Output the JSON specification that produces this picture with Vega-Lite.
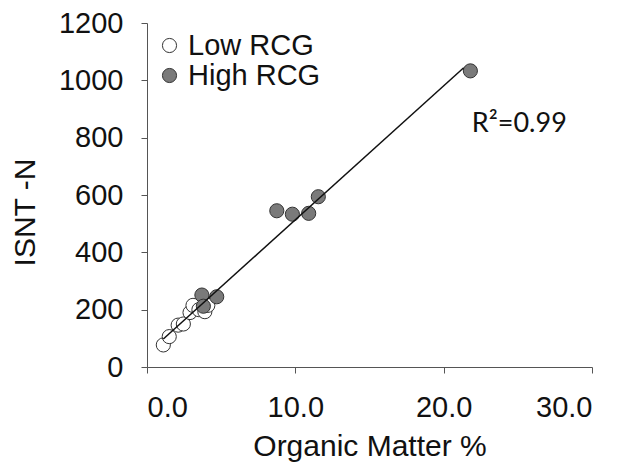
{
  "$schema": "https://vega.github.io/schema/vega-lite/v6.json",
  "width": 445,
  "height": 344,
  "autosize": {"type": "none"},
  "padding": {"left": 147, "top": 23, "right": 52, "bottom": 102},
  "background": "white",
  "config": {
    "view": {"stroke": null},
    "font": "Liberation Sans",
    "axis": {
      "domainColor": "#555",
      "domainWidth": 1,
      "tickColor": "#555",
      "tickSize": 6,
      "grid": false,
      "labelFont": "Liberation Sans",
      "labelFontSize": 29,
      "labelColor": "#111",
      "titleFont": "Liberation Sans",
      "titleFontSize": 30,
      "titleFontWeight": "normal",
      "titleColor": "#111"
    }
  },
  "datasets": {
    "pts": [
      {"om": 1.1, "isnt": 77, "group": "Low RCG"},
      {"om": 1.5, "isnt": 106, "group": "Low RCG"},
      {"om": 2.1, "isnt": 146, "group": "Low RCG"},
      {"om": 2.45, "isnt": 150, "group": "Low RCG"},
      {"om": 2.9, "isnt": 190, "group": "Low RCG"},
      {"om": 3.1, "isnt": 215, "group": "Low RCG"},
      {"om": 3.5, "isnt": 200, "group": "Low RCG"},
      {"om": 3.9, "isnt": 193, "group": "Low RCG"},
      {"om": 4.1, "isnt": 215, "group": "Low RCG"},
      {"om": 3.7, "isnt": 251, "group": "High RCG"},
      {"om": 3.8, "isnt": 212, "group": "High RCG"},
      {"om": 4.7, "isnt": 245, "group": "High RCG"},
      {"om": 8.75, "isnt": 545, "group": "High RCG"},
      {"om": 9.8, "isnt": 533, "group": "High RCG"},
      {"om": 10.9, "isnt": 536, "group": "High RCG"},
      {"om": 11.55, "isnt": 594, "group": "High RCG"},
      {"om": 21.8, "isnt": 1033, "group": "High RCG"}
    ],
    "note": [{"om": 25.1, "isnt": 848, "label": "R²=0.99"}]
  },
  "layer": [
    {
      "data": {"name": "pts"},
      "mark": {"type": "point", "shape": "circle", "filled": true, "size": 200, "opacity": 1, "stroke": "#333", "strokeWidth": 1},
      "encoding": {
        "x": {
          "field": "om", "type": "quantitative",
          "scale": {"domain": [0, 30], "nice": false, "zero": true},
          "axis": {"title": "Organic Matter %", "values": [0, 10, 20, 30], "format": ".1f", "labelPadding": 20, "titlePadding": 9}
        },
        "y": {
          "field": "isnt", "type": "quantitative",
          "scale": {"domain": [0, 1200], "nice": false},
          "axis": {"title": "ISNT -N", "values": [0, 200, 400, 600, 800, 1000, 1200], "format": "d", "labelPadding": 18, "titleAngle": -90, "titleBaseline": "middle", "titleX": -122, "titleY": 189}
        },
        "fill": {
          "field": "group", "type": "nominal",
          "scale": {"domain": ["Low RCG", "High RCG"], "range": ["#ffffff", "#7a7a7a"]},
          "legend": {
            "title": null,
            "orient": "none",
            "legendX": 8,
            "legendY": 8,
            "padding": 0,
            "labelFontSize": 29,
            "labelFont": "Liberation Sans",
            "labelColor": "#111",
            "labelOffset": 4,
            "symbolSize": 200,
            "symbolType": "circle",
            "symbolStrokeColor": "#333",
            "symbolStrokeWidth": 1,
            "rowPadding": 0
          }
        }
      }
    },
    {
      "data": {"name": "pts"},
      "transform": [{"regression": "isnt", "on": "om", "extent": [1.1, 21.35]}],
      "mark": {"type": "line", "color": "#111", "strokeWidth": 1.5},
      "encoding": {
        "x": {"field": "om", "type": "quantitative"},
        "y": {"field": "isnt", "type": "quantitative"}
      }
    },
    {
      "data": {"name": "note"},
      "mark": {"type": "text", "font": "Lato", "fontSize": 27, "color": "#111", "align": "center", "baseline": "middle"},
      "encoding": {
        "x": {"field": "om", "type": "quantitative"},
        "y": {"field": "isnt", "type": "quantitative"},
        "text": {"field": "label"}
      }
    }
  ]
}
